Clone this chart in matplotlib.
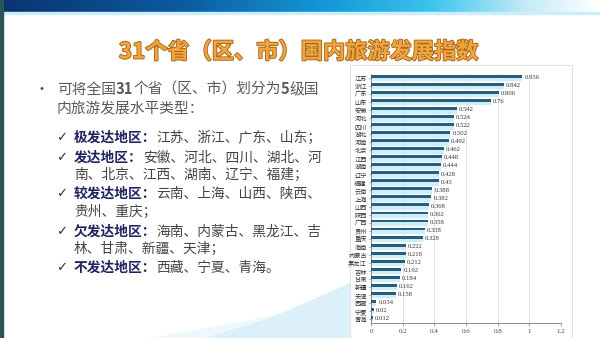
import matplotlib
matplotlib.use('Agg')
import matplotlib.pyplot as plt
import matplotlib.patheffects as pe
from matplotlib.colors import LinearSegmentedColormap
from matplotlib.patches import Rectangle, Polygon
import numpy as np

plt.rcParams['font.family'] = ['Noto Sans CJK SC', 'DejaVu Sans']

# 数据：31个省（区、市）国内旅游发展指数
provinces = ['江苏', '浙江', '广东', '山东', '安徽', '河北', '四川', '湖北', '河南', '北京',
             '江西', '湖南', '辽宁', '福建', '云南', '上海', '山西', '陕西', '广西', '贵州',
             '重庆', '海南', '内蒙古', '黑龙江', '吉林', '甘肃', '新疆', '天津', '西藏', '宁夏', '青海']
index_values = [0.956, 0.842, 0.806, 0.76, 0.542, 0.524, 0.522, 0.502, 0.492, 0.462,
                0.448, 0.444, 0.428, 0.43, 0.388, 0.382, 0.368, 0.362, 0.358, 0.338,
                0.328, 0.222, 0.218, 0.212, 0.192, 0.184, 0.162, 0.158, 0.034, 0.02, 0.012]
value_labels = ['0.956', '0.842', '0.806', '0.76', '0.542', '0.524', '0.522', '0.502', '0.492', '0.462',
                '0.448', '0.444', '0.428', '0.43', '0.388', '0.382', '0.368', '0.362', '0.358', '0.338',
                '0.328', '0.222', '0.218', '0.212', '0.192', '0.184', '0.162', '0.158', '0.034', '0.02', '0.012']
x_ticks = [0, 0.2, 0.4, 0.6, 0.8, 1, 1.2]
x_tick_labels = ['0', '0.2', '0.4', '0.6', '0.8', '1', '1.2']

title = '31个省（区、市）国内旅游发展指数'
intro = [('可将全国', False), ('31', True), ('个省（区、市）划分为', False), ('5', True), ('级国', False)]
intro2 = '内旅游发展水平类型：'
# (标题, 第一行, 第二行)
levels = [('极发达地区：', '江苏、浙江、广东、山东；', None),
          ('发达地区：', '安徽、河北、四川、湖北、河', '南、北京、江西、湖南、辽宁、福建；'),
          ('较发达地区：', '云南、上海、山西、陕西、', '贵州、重庆；'),
          ('欠发达地区：', '海南、内蒙古、黑龙江、吉', '林、甘肃、新疆、天津；'),
          ('不发达地区：', '西藏、宁夏、青海。', None)]

fig = plt.figure(figsize=(6, 3.38), dpi=100)

# 背景层，用像素坐标
bg = fig.add_axes([0, 0, 1, 1])
bg.set_xlim(0, 600)
bg.set_ylim(338, 0)
bg.axis('off')

grad_cmap = LinearSegmentedColormap.from_list(
    'band', [(0, '#0a3370'), (0.3, '#0c5aa0'), (0.55, '#159ad8'), (0.72, '#3cc4ee'),
             (0.88, '#c4ebf8'), (1, '#ffffff')])
bg.imshow(np.linspace(0, 1, 300).reshape(1, -1), cmap=grad_cmap, aspect='auto',
          extent=(0, 600, 12, 0), zorder=1)
bg.add_patch(Rectangle((0, 12), 600, 1.5, color='#cdeef9', zorder=1))
bg.add_patch(Rectangle((0, 0), 2.5, 338, color='#2a5656', zorder=2))

# 左下角浅蓝色弧形
bg.add_patch(Polygon([(205, 338), (270, 318), (330, 292), (352, 282), (352, 338)],
                     closed=True, color='#dcf0f9', lw=0, zorder=1))
bg.add_patch(Polygon([(150, 338), (240, 322), (352, 300), (352, 338)],
                     closed=True, color='#eef8fc', lw=0, zorder=0.9))

# 图表面板
bg.add_patch(Rectangle((350, 65), 222, 280, facecolor='white', edgecolor='#e2e2e2', lw=0.8, zorder=2))

bg.text(299, 52, title, ha='center', va='center', fontsize=16, fontweight='bold', color='#f0a63c',
        path_effects=[pe.withStroke(linewidth=1.3, foreground='#a9661c')], zorder=3)

# 左侧文字
bg.text(42, 90, '•', ha='center', va='center', fontsize=10, color='#7a3535', zorder=3)
prev = None
for s, bold in intro:
    kw = dict(fontsize=10.6, color='#5a5a5a', fontweight='bold' if bold else 'normal', zorder=3)
    if prev is None:
        prev = bg.text(57, 90, s, ha='left', va='center', **kw)
    else:
        prev = bg.annotate(s, xy=(1, 0), xycoords=prev, ha='left', va='bottom', **kw)
bg.text(57, 108, intro2, ha='left', va='center', fontsize=10.6, color='#5a5a5a', zorder=3)

level_y = [(138, None), (158, 175), (194, 212), (232, 249), (268, None)]
for (head, line1, line2), (y1, y2) in zip(levels, level_y):
    bg.text(62, y1, '✓', ha='center', va='center', fontsize=9.5, color='#333333',
            family=['DejaVu Sans'], zorder=3)
    h = bg.text(74, y1, head, ha='left', va='center', fontsize=9.9, fontweight='bold',
                color='#1f2460', zorder=3)
    bg.annotate(line1, xy=(1, 0), xycoords=h, ha='left', va='bottom', fontsize=9.9,
                color='#444444', zorder=3)
    if line2:
        bg.text(74, y2, line2, ha='left', va='center', fontsize=9.9, color='#444444', zorder=3)

# 条形图
ax = fig.add_axes([371 / 600, 15 / 338, 190 / 600, 249 / 338])
ax.set_zorder(5)
ax.patch.set_alpha(0)
y = np.arange(len(provinces))
ax.barh(y + 0.02, index_values, height=0.8, color='#c9effc', zorder=2)
ax.barh(y - 0.2, index_values, height=0.36, color='#2c5b7c', zorder=3)
for yi, v, lab in zip(y, index_values, value_labels):
    ax.text(v + 0.012, yi - 0.05, lab, ha='left', va='center', fontsize=4.8,
            family=['Liberation Serif'], color='#333333', zorder=4)

ax.set_xlim(0, 1.2)
ax.set_ylim(len(provinces) - 0.5, -0.5)
ax.set_xticks(x_ticks)
ax.set_xticklabels(x_tick_labels, family=['Liberation Serif'], fontsize=5, color='#444444')
ax.set_yticks(y)
ax.set_yticklabels(provinces, fontsize=4.5, color='#333333')
ax.xaxis.grid(True, color='#dcdcdc', lw=0.6, zorder=0)
ax.set_axisbelow(True)
for side in ['top', 'right']:
    ax.spines[side].set_visible(False)
ax.spines['left'].set_color('#777777')
ax.spines['left'].set_linewidth(0.6)
ax.spines['bottom'].set_color('#777777')
ax.spines['bottom'].set_linewidth(0.6)
ax.tick_params(axis='y', length=1.5, width=0.5, pad=1.5, colors='#777777', labelcolor='#333333')
ax.tick_params(axis='x', length=2, width=0.5, pad=2, colors='#777777', labelcolor='#444444')

plt.savefig('out.png', dpi=100)
